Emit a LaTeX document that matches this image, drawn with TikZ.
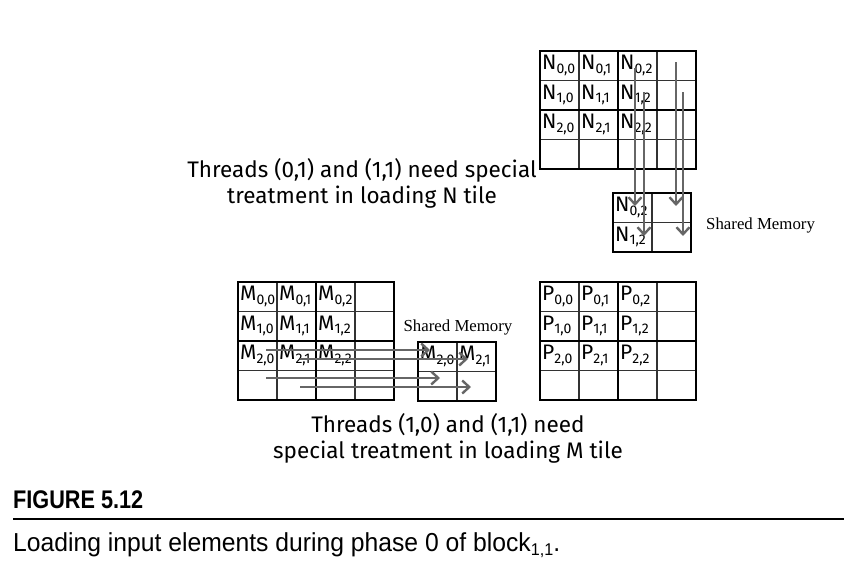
\documentclass[tikz,border=0pt]{standalone}
\usepackage{fontspec}
\usetikzlibrary{arrows.meta}

\newfontfamily\lblfont{Fira Sans}
\newfontfamily\memfont{Liberation Serif}
\newfontfamily\capfont[FakeStretch=0.85]{Liberation Sans}
\newfontfamily\captxtfont[FakeStretch=0.95]{Liberation Sans}

% element with subscript, e.g. \elt{N}{0,2}
\newcommand{\elt}[2]{#1\raisebox{-3.5pt}{\fontsize{14}{14}\selectfont #2}}

% n x n tile of cells, top-left corner at (#1,#2)
\newcommand{\tileframe}[3]{%
  \foreach \i in {1,...,#3} {
    \draw[cellline] ({#1+39*\i},#2) -- ++(0,{29.5*#3});
    \draw[cellline] (#1,{#2+29.5*\i}) -- ++({39*#3},0);
  }
  \draw[cellframe] (#1,#2) rectangle ++({39*#3},{29.5*#3});
}
% thick middle lines of a 4 x 4 tile
\newcommand{\tilemid}[2]{%
  \draw[cellframe] ({#1+78},#2) -- ++(0,118);
  \draw[cellframe] (#1,{#2+59}) -- ++(156,0);
}

\begin{document}
\begin{tikzpicture}[
  x=1pt, y=-1pt,
  cellline/.style  = {draw=black!80, line width=1.2pt},
  cellframe/.style = {draw=black, line width=2.8pt},
  lbl/.style  = {font=\lblfont\fontsize{21}{21}\selectfont, anchor=west,
                 inner sep=0pt},
  note/.style = {font=\lblfont\fontsize{22.5}{26}\selectfont, align=center,
                 inner sep=0pt},
  mem/.style  = {font=\memfont\fontsize{16.8}{18}\selectfont, inner sep=0pt},
  ld/.style   = {draw=black!60, line width=2.6pt,
                 -{Straight Barb[length=7pt,width=13pt,line width=2.4pt]}},
]
  \useasboundingbox (0,0) rectangle (844,571);

  % ---- N tile -----------------------------------------------
  \tileframe{540}{51}{4}
  \tilemid{540}{51}
  \foreach \r in {0,1,2}
    \foreach \c in {0,1,2}
      \node[lbl] (n\r\c) at ({542+39*\c},{65.5+29.5*\r}) {\elt{N}{\r,\c}};

  % ---- N shared memory --------------------------------------
  \tileframe{613}{193}{2}
  \node[lbl] (sn02) at (615, 207.5) {\elt{N}{0,2}};
  \node[lbl] (sn12) at (615, 237) {\elt{N}{1,2}};
  \node[mem, anchor=west] (nmem) at (706, 225) {Shared Memory};

  \node[note] (ntxt) at (362, 183)
    {Threads (0,1) and (1,1) need special\\treatment in loading N tile};

  % ---- M tile -----------------------------------------------
  \tileframe{238}{282}{4}
  \tilemid{238}{282}
  \foreach \r in {0,1,2}
    \foreach \c in {0,1,2}
      \node[lbl] (m\r\c) at ({240+39*\c},{296.5+29.5*\r}) {\elt{M}{\r,\c}};

  % ---- M shared memory --------------------------------------
  \tileframe{418}{342}{2}
  \node[lbl] (sm20) at (420, 356.5) {\elt{M}{2,0}};
  \node[lbl] (sm21) at (459, 356.5) {\elt{M}{2,1}};
  \node[mem] (mmem) at (458, 327) {Shared Memory};

  \node[note] (mtxt) at (448, 438)
    {Threads (1,0) and (1,1) need\\special treatment in loading M tile};

  % ---- P tile -----------------------------------------------
  \tileframe{540}{282}{4}
  \tilemid{540}{282}
  \foreach \r in {0,1,2}
    \foreach \c in {0,1,2}
      \node[lbl] (p\r\c) at ({542+39*\c},{296.5+29.5*\r}) {\elt{P}{\r,\c}};

  % ---- loading arrows, N ------------------------------------
  \coordinate (na) at (635, 68);   \coordinate (na') at (635, 206);
  \coordinate (nb) at (644, 92);   \coordinate (nb') at (644, 236);
  \coordinate (nc) at (676, 62);   \coordinate (nc') at (676, 206);
  \coordinate (nd) at (683, 92);   \coordinate (nd') at (683, 236);
  \foreach \a in {na,nb,nc,nd}
    \draw[ld] (\a) -- (\a');

  % ---- loading arrows, M ------------------------------------
  \coordinate (ma) at (266, 350);  \coordinate (ma') at (430, 350);
  \coordinate (mb) at (300, 359);  \coordinate (mb') at (468, 359);
  \coordinate (mc) at (266, 378);  \coordinate (mc') at (440, 378);
  \coordinate (md) at (300, 387);  \coordinate (md') at (471, 387);
  \foreach \a in {ma,mb,mc,md}
    \draw[ld] (\a) -- (\a');

  % ---- caption ----------------------------------------------
  \node[anchor=base west, inner sep=0pt,
        font=\capfont\bfseries\fontsize{25.5}{25}\selectfont]
    (fig) at (13, 508) {FIGURE 5.12};
  \draw[line width=2pt] (13, 519) -- (844, 519);
  \node[anchor=base west, inner sep=0pt,
        font=\captxtfont\fontsize{26}{26}\selectfont]
    (cap) at (13, 551) {Loading input elements during phase 0 of
    block\raisebox{-4.5pt}{\fontsize{17}{17}\selectfont 1,1}.};

\end{tikzpicture}
\end{document}
